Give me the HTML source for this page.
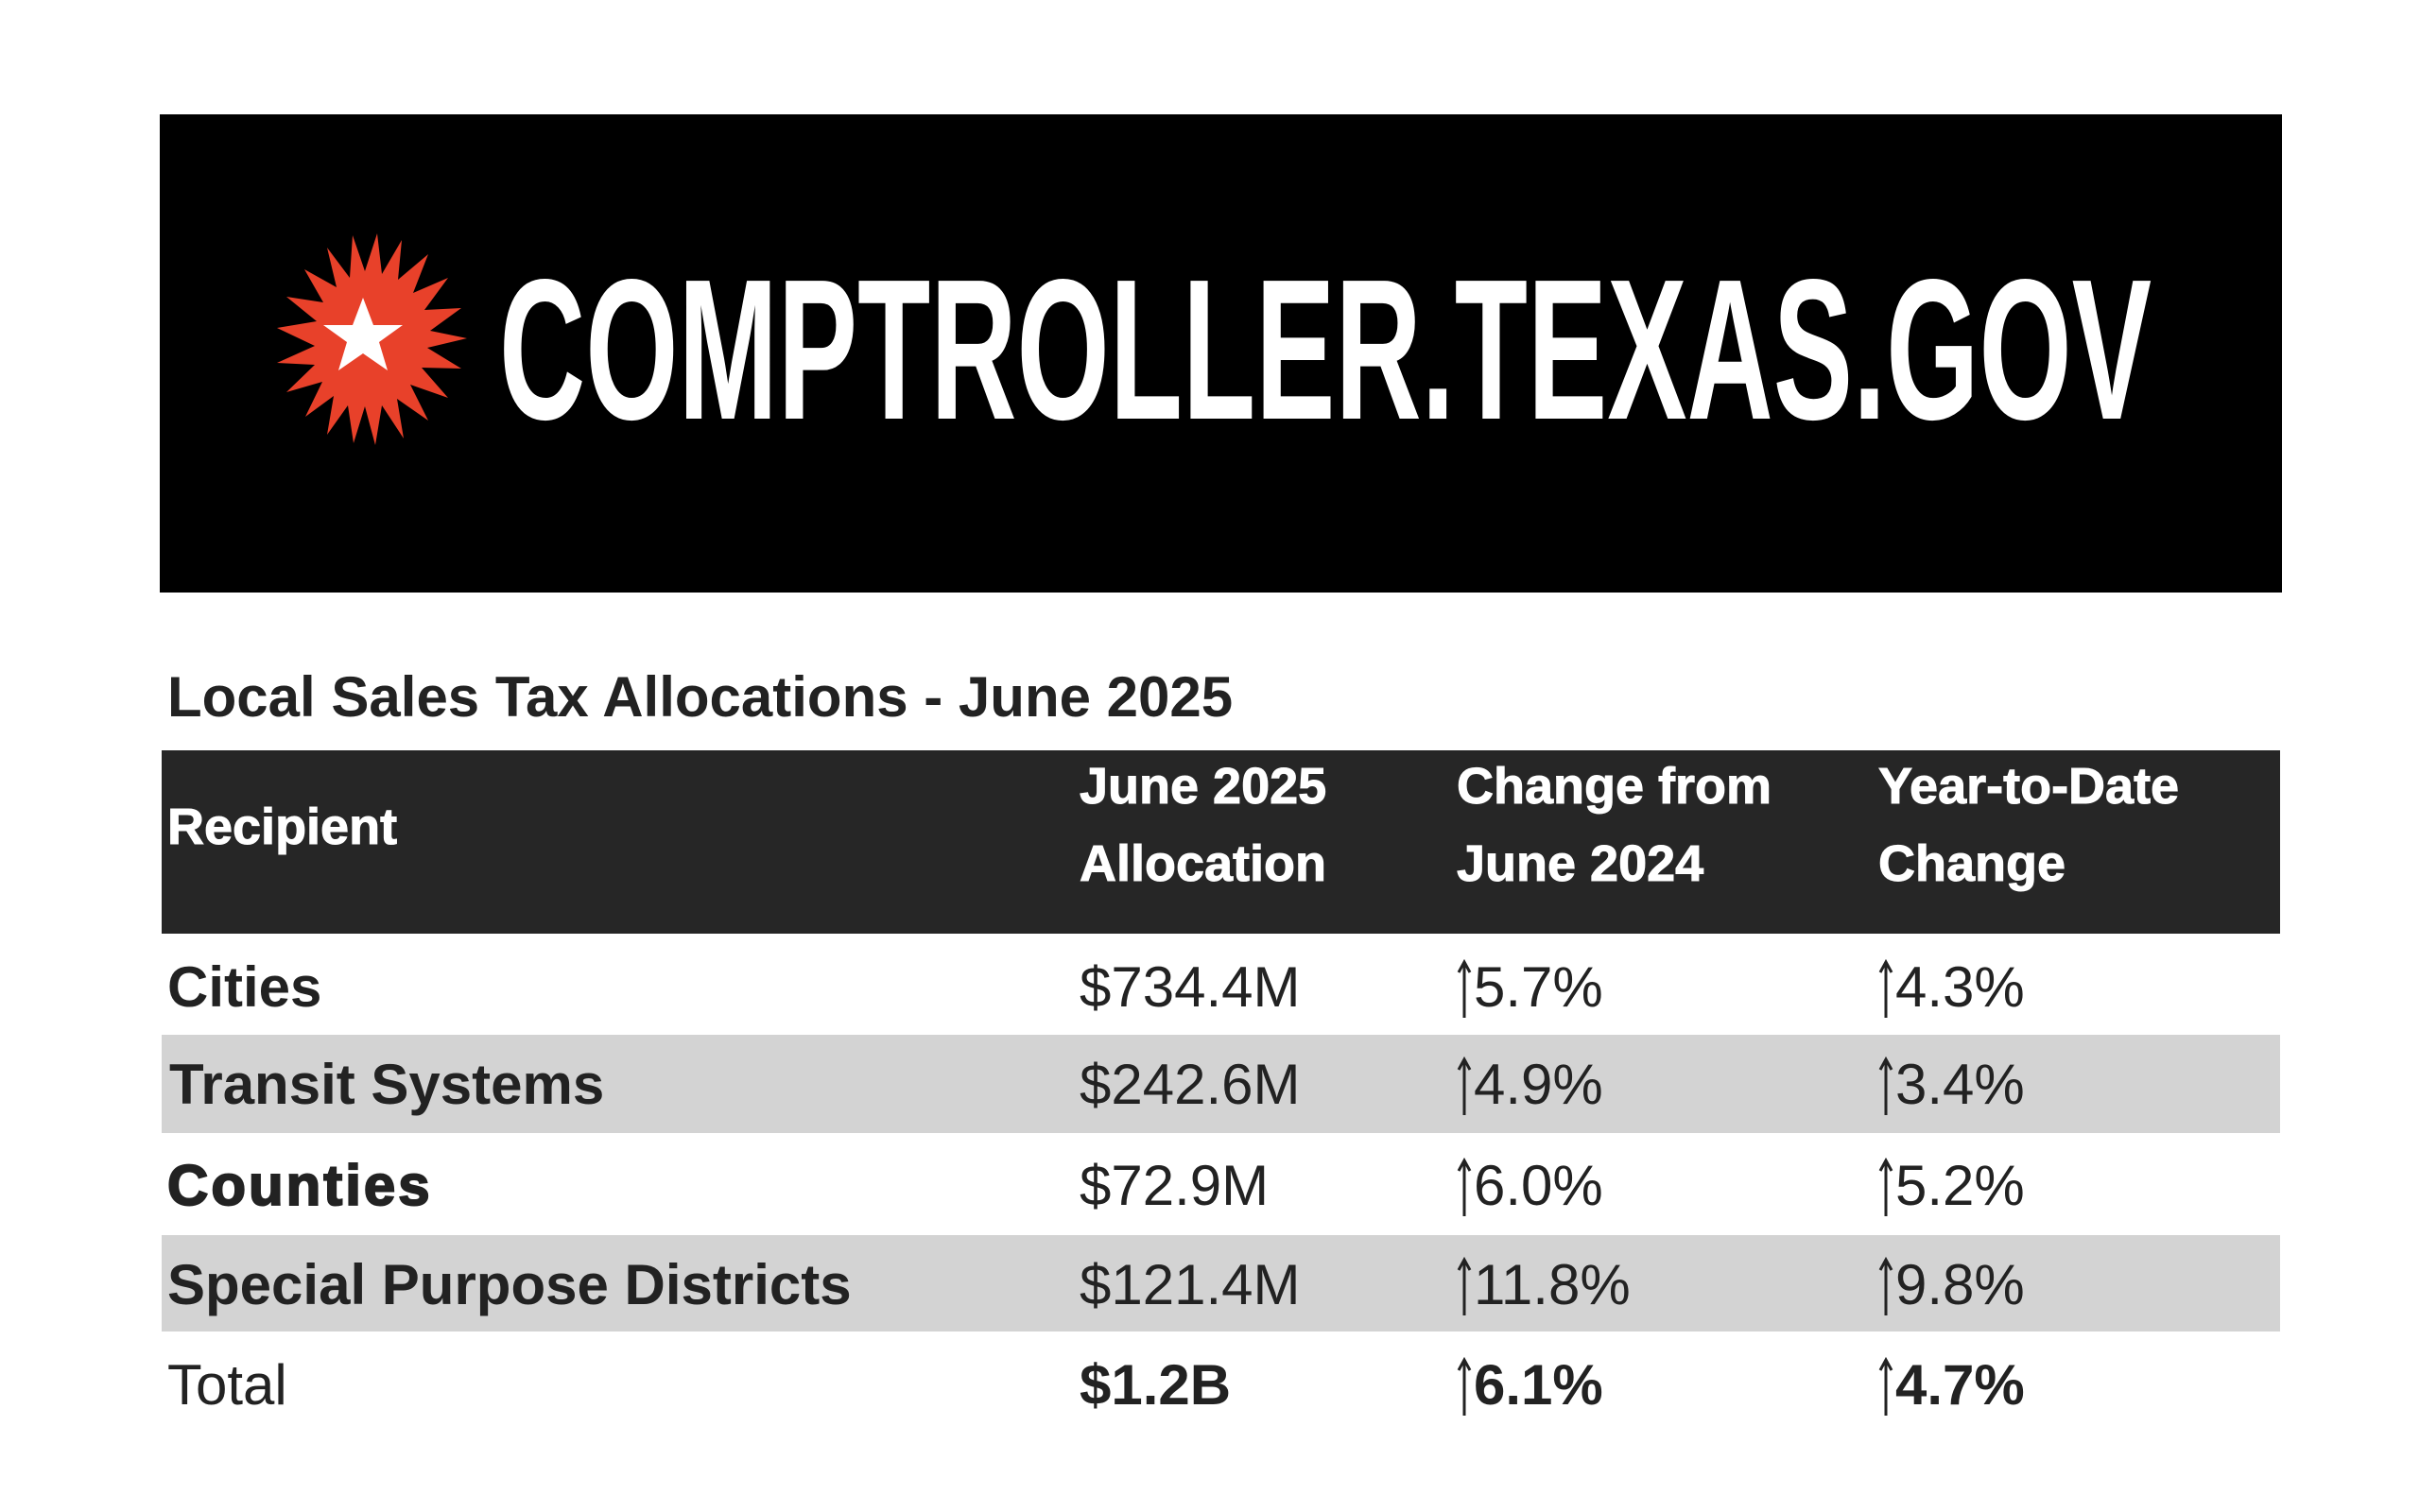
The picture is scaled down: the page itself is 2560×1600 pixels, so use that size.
<!DOCTYPE html>
<html><head><meta charset="utf-8"><style>
html,body{margin:0;padding:0;background:#fff;}
body{width:2560px;height:1600px;position:relative;overflow:hidden;font-family:"Liberation Sans",Arial,sans-serif;color:#222;}
.a{position:absolute;white-space:nowrap;line-height:1;}
.h{color:#fff;font-weight:bold;font-size:54px;-webkit-text-stroke:1px #fff;}
.d{font-size:60px;}
.b{font-weight:bold;}
.ar{display:inline-block;width:16px;height:62px;vertical-align:-12px;margin-right:2px;}
</style></head><body>
<div class="a" style="left:169px;top:121px;width:2245px;height:506px;background:#000;"></div>
<svg class="a" style="left:-10px;top:-3px" width="2570" height="700" viewBox="0 0 2570 700">
<polygon fill="#e8412a" points="
504,361 462,371 498,393 456,392 484,424 444,410 463,448 430,425 437,467 414,432 407,474 396,433 384,472 378,432 356,463 363,422 333,444 351,407 313,418 343,389 303,387 343,369 303,350 345,343 313,317 352,323 332,288 366,307 356,265 380,297 383,252 396,290 409,250 414,293 435,257 431,299 463,272 447,313 484,297 459,331 498,329 465,353"/>
<polygon fill="#fff" points="394,318 405,347 436,347 411,365 420,395 394,377 368,395 377,365 352,347 383,347"/>
</svg>
<svg class="a" style="left:0;top:0" width="2560" height="700" viewBox="0 0 2560 700">
<text x="528" y="443" fill="#fff" font-family="Liberation Sans Narrow, Liberation Sans, sans-serif" font-weight="bold" font-size="212" textLength="1748" lengthAdjust="spacingAndGlyphs">COMPTROLLER.TEXAS.GOV</text>
</svg>
<div class="a b" style="left:177px;top:708px;font-size:60px;">Local Sales Tax Allocations - June 2025</div>
<div class="a" style="left:171px;top:794px;width:2241px;height:194px;background:#262626;"></div>
<div class="a h" style="left:177px;top:848px;">Recipient</div>
<div class="a h" style="left:1142px;top:805px;">June 2025</div>
<div class="a h" style="left:1142px;top:887px;">Allocation</div>
<div class="a h" style="left:1541px;top:805px;">Change from</div>
<div class="a h" style="left:1541px;top:887px;">June 2024</div>
<div class="a h" style="left:1987px;top:805px;">Year-to-Date</div>
<div class="a h" style="left:1987px;top:887px;">Change</div>
<div class="a" style="left:171px;top:1095px;width:2241px;height:104px;background:#d3d3d3;"></div>
<div class="a" style="left:171px;top:1307px;width:2241px;height:102px;background:#d3d3d3;"></div>

<div class="a d b" style="left:177px;top:1015px;">Cities</div>
<div class="a d" style="left:1142px;top:1015px;">$734.4M</div>
<div class="a d" style="left:1541px;top:1015px;"><svg class="ar" viewBox="0 0 16 62"><path d="M8,4V62M2,14L8,3L14,14" stroke="#222" stroke-width="3" fill="none"/></svg>5.7%</div>
<div class="a d" style="left:1987px;top:1015px;"><svg class="ar" viewBox="0 0 16 62"><path d="M8,4V62M2,14L8,3L14,14" stroke="#222" stroke-width="3" fill="none"/></svg>4.3%</div>

<div class="a d b" style="left:179px;top:1118px;">Transit Systems</div>
<div class="a d" style="left:1142px;top:1118px;">$242.6M</div>
<div class="a d" style="left:1541px;top:1118px;"><svg class="ar" viewBox="0 0 16 62"><path d="M8,4V62M2,14L8,3L14,14" stroke="#222" stroke-width="3" fill="none"/></svg>4.9%</div>
<div class="a d" style="left:1987px;top:1118px;"><svg class="ar" viewBox="0 0 16 62"><path d="M8,4V62M2,14L8,3L14,14" stroke="#222" stroke-width="3" fill="none"/></svg>3.4%</div>

<div class="a d b" style="left:177px;top:1225px;-webkit-text-stroke:2px #222;letter-spacing:3px;">Counties</div>
<div class="a d" style="left:1142px;top:1225px;">$72.9M</div>
<div class="a d" style="left:1541px;top:1225px;"><svg class="ar" viewBox="0 0 16 62"><path d="M8,4V62M2,14L8,3L14,14" stroke="#222" stroke-width="3" fill="none"/></svg>6.0%</div>
<div class="a d" style="left:1987px;top:1225px;"><svg class="ar" viewBox="0 0 16 62"><path d="M8,4V62M2,14L8,3L14,14" stroke="#222" stroke-width="3" fill="none"/></svg>5.2%</div>

<div class="a d b" style="left:177px;top:1330px;">Special Purpose Districts</div>
<div class="a d" style="left:1142px;top:1330px;">$121.4M</div>
<div class="a d" style="left:1541px;top:1330px;"><svg class="ar" viewBox="0 0 16 62"><path d="M8,4V62M2,14L8,3L14,14" stroke="#222" stroke-width="3" fill="none"/></svg>11.8%</div>
<div class="a d" style="left:1987px;top:1330px;"><svg class="ar" viewBox="0 0 16 62"><path d="M8,4V62M2,14L8,3L14,14" stroke="#222" stroke-width="3" fill="none"/></svg>9.8%</div>

<div class="a d" style="left:177px;top:1436px;">Total</div>
<div class="a d b" style="left:1142px;top:1436px;">$1.2B</div>
<div class="a d" style="left:1541px;top:1436px;"><svg class="ar" viewBox="0 0 16 62"><path d="M8,4V62M2,14L8,3L14,14" stroke="#222" stroke-width="3" fill="none"/></svg><b>6.1%</b></div>
<div class="a d" style="left:1987px;top:1436px;"><svg class="ar" viewBox="0 0 16 62"><path d="M8,4V62M2,14L8,3L14,14" stroke="#222" stroke-width="3" fill="none"/></svg><b>4.7%</b></div>
</body></html>
